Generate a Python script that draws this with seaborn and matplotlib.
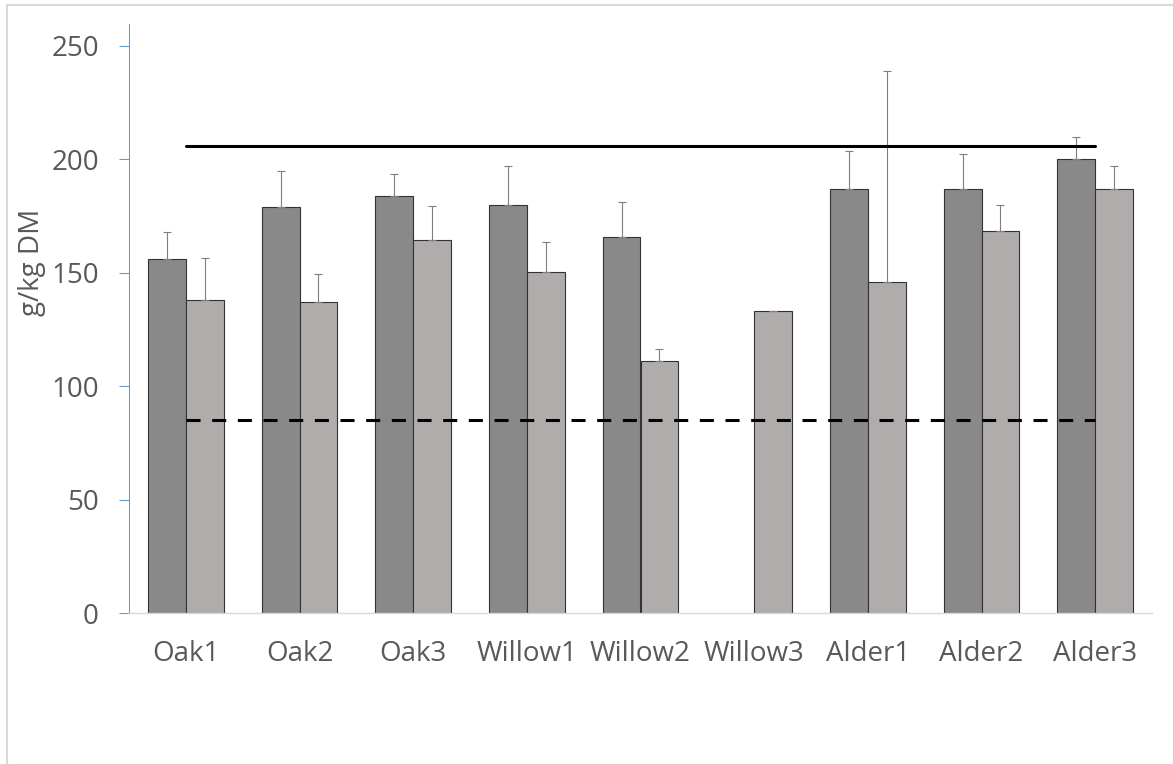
import numpy as np
import pandas as pd
import matplotlib
matplotlib.use("Agg")
import matplotlib.pyplot as plt
from matplotlib.lines import Line2D
import seaborn as sns

categories = ["Oak1", "Oak2", "Oak3", "Willow1", "Willow2", "Willow3", "Alder1", "Alder2", "Alder3"]
series_names = ["Series1", "Series2"]
dark_vals = [156, 179, 184, 180, 166, np.nan, 187, 187, 200]
dark_err = [12, 16, 9.5, 17, 15, np.nan, 16.5, 15.5, 10]
light_vals = [138, 137, 164.5, 150.5, 111, 133, 146, 168.5, 187]
light_err = [18.5, 12.5, 15, 13, 5.5, 0, 93, 11.5, 10]
upper_ref = 206
lower_ref = 85
y_ticks = [0, 50, 100, 150, 200, 250]

df = pd.DataFrame({
    "site": categories * 2,
    "series": [series_names[0]] * len(categories) + [series_names[1]] * len(categories),
    "value": dark_vals + light_vals,
})
errs = {series_names[0]: dark_err, series_names[1]: light_err}

sns.set_style("white")
plt.rcParams["font.family"] = ["Open Sans", "DejaVu Sans"]
text_col = "#595959"
axis_blue = "#5B9BD5"

W, H = 1173, 764
fig = plt.figure(figsize=(W / 100, H / 100), dpi=100)
ax = fig.add_axes([129 / W, 1 - 613 / H, 1023 / W, 589 / H])

sns.barplot(data=df, x="site", y="value", hue="series", order=categories,
            hue_order=series_names, palette=["#898989", "#AFACAB"], saturation=1,
            width=0.667, errorbar=None, legend=False, edgecolor="#333333",
            linewidth=0.8, ax=ax)

# plus-only error bars, placed at the bar centres
for name, cont in zip(series_names, ax.containers):
    for p in cont:
        h = p.get_height()
        if np.isnan(h):
            continue
        xc = p.get_x() + p.get_width() / 2
        e = errs[name][int(round(xc))]
        ax.errorbar(xc, h, yerr=[[0], [e]], fmt="none", ecolor="#7F7F7F",
                    elinewidth=0.8, capsize=3, capthick=0.8, zorder=3)

x_ends = [0, len(categories) - 1]
ax.plot(x_ends, [upper_ref] * 2, color="black", lw=2.2, zorder=4)
ax.plot(x_ends, [lower_ref] * 2, color="black", lw=2.2, dashes=(4.6, 3.8), zorder=4)

ax.set_xlim(-0.5, len(categories) - 0.5)
ax.set_ylim(0, 259.7)
ax.set_yticks(y_ticks)
ax.set_xlabel("")
ax.set_ylabel("")
for s in ["top", "right"]:
    ax.spines[s].set_visible(False)
ax.spines["left"].set_color(axis_blue)
ax.spines["left"].set_linewidth(0.75)
ax.spines["bottom"].set_color("#D9D9D9")
ax.spines["bottom"].set_linewidth(1)
ax.tick_params(axis="y", direction="out", length=7.2, width=0.75, color=axis_blue,
               pad=14.4, labelsize=20, labelcolor=text_col, left=True)
ax.tick_params(axis="x", length=0, pad=19.5, labelsize=20, labelcolor=text_col)

fig.text(32 / W, 1 - 262 / H, "g/kg DM", rotation=90, ha="center", va="center",
         fontsize=20, color=text_col)

# chart area border (left and top edges)
border = "#D9D9D9"
fig.add_artist(Line2D([7 / W, 7 / W], [0, 1 - 5 / H], color=border, lw=1.5))
fig.add_artist(Line2D([7 / W, 1], [1 - 5 / H, 1 - 5 / H], color=border, lw=1.5))

fig.savefig("out.png", dpi=100)
